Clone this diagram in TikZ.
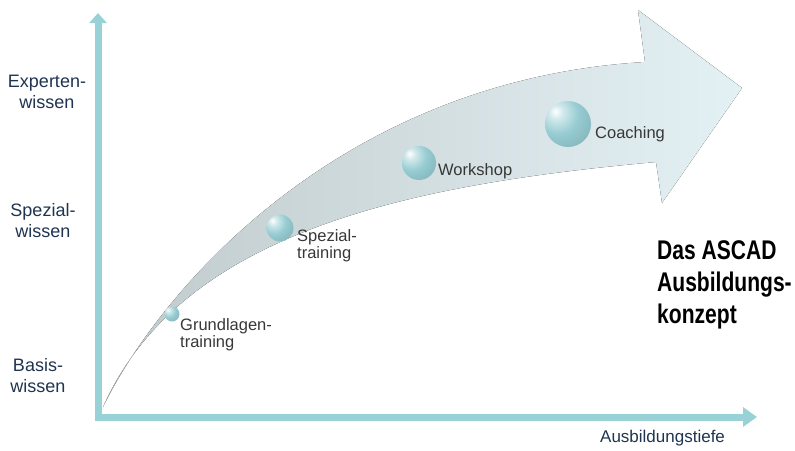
\documentclass[tikz,border=0pt]{standalone}
\usepackage{fontspec}
\setmainfont{Liberation Sans}
\newfontfamily\narrowbold[FakeStretch=0.78]{Liberation Sans Bold}
\usetikzlibrary{arrows.meta}
\definecolor{axisc}{RGB}{152,210,214}
\definecolor{arrowL}{RGB}{192,202,204}
\definecolor{arrowR}{RGB}{228,241,244}
\definecolor{ballc}{RGB}{150,204,210}
\definecolor{navy}{RGB}{30,52,80}
\definecolor{lbl}{RGB}{55,55,55}
\pgfdeclareradialshading{glassball}{\pgfpoint{-14bp}{14bp}}{%
  color(0bp)=(white);
  color(8bp)=(ballc!45!white);
  color(22bp)=(ballc);
  color(46bp)=(ballc!85!black);
  color(60bp)=(ballc!75!black);
  color(100bp)=(ballc!75!black)}
\tikzset{
  axisline/.style={draw=axisc, line width=7pt},
  ballnode/.style={circle, shading=glassball, inner sep=0pt},
  axislabel/.style={font=\fontsize{18}{20.5}\selectfont, text=navy, align=center, inner sep=0pt, anchor=base},
  steplabel/.style={font=\fontsize{16.5}{17}\selectfont, text=lbl, align=left, inner sep=0pt, anchor=base west},
}
\begin{document}
\begin{tikzpicture}[x=1pt,y=-1pt]
\useasboundingbox (0,0) rectangle (795,450);
% big arrow
\fill[left color=arrowL, right color=arrowR]
  (103,407) .. controls (160,290) and (340,80) .. (645,62)
  -- (638,10) -- (742,88) -- (662,203) -- (656,162)
  .. controls (400,185) and (180,235) .. (103,407) -- cycle;
% axes
\coordinate (ybot) at (98,420.5);
\coordinate (ytop) at (98,13);
\coordinate (xleft) at (94.5,417);
\coordinate (xright) at (757,417);
\draw[axisline, -{Triangle[width=17pt,length=10pt]}] (ybot) -- (ytop);
\draw[axisline, -{Triangle[width=19pt,length=14pt]}] (xleft) -- (xright);
% balls
\node[ballnode, minimum size=15pt] (b1) at (172,314) {};
\node[ballnode, minimum size=27pt] (b2) at (280,228) {};
\node[ballnode, minimum size=34pt] (b3) at (419,163) {};
\node[ballnode, minimum size=46pt] (b4) at (568,124) {};
% step labels (anchor = baseline of last line)
\node[steplabel] (t1) at (180,347) {Grundlagen-\\training};
\node[steplabel] (t2) at (297,258) {Spezial-\\training};
\node[steplabel] (t3) at (438,175) {Workshop};
\node[steplabel] (t4) at (595,138) {Coaching};
% axis labels
\node[axislabel] (l1) at (47,108) {Experten-\\wissen};
\node[axislabel] (l2) at (43,237) {Spezial-\\wissen};
\node[axislabel] (l3) at (38,392) {Basis-\\wissen};
\node[font=\fontsize{17}{19}\selectfont, text=navy, inner sep=0pt, anchor=base west] (xl) at (600,442) {Ausbildungstiefe};
% title
\node[font=\narrowbold\fontsize{27}{32}\selectfont, text=black, align=left, inner sep=0pt, anchor=base west] (title) at (657,323) {Das ASCAD\\Ausbildungs-\\konzept};
\end{tikzpicture}
\end{document}
